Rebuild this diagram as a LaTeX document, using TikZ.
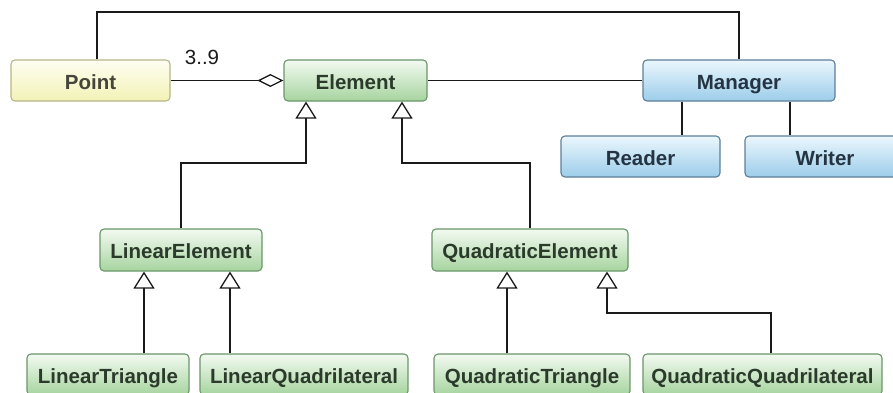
\documentclass[tikz,border=0pt]{standalone}
\usepackage{fontspec}
\setmainfont{Liberation Sans}
\usetikzlibrary{arrows.meta}

\definecolor{grTop}{HTML}{F3FAF1}
\definecolor{grBot}{HTML}{A6D49F}
\definecolor{grLine}{HTML}{6A966A}
\definecolor{grText}{HTML}{2B3A2B}
\definecolor{ylTop}{HTML}{FEFEF2}
\definecolor{ylBot}{HTML}{F2F2B6}
\definecolor{ylLine}{HTML}{B6B688}
\definecolor{ylText}{HTML}{45453A}
\definecolor{blTop}{HTML}{EBF7FD}
\definecolor{blBot}{HTML}{9CCDEA}
\definecolor{blLine}{HTML}{5C7F9B}
\definecolor{blText}{HTML}{253442}
\definecolor{wire}{HTML}{1A1A1A}

\tikzset{
  cls/.style={rectangle, rounded corners=4pt, line width=1.1pt,
    minimum height=41pt, inner sep=0pt, text height=17pt, text depth=0pt,
    font=\fontsize{20.5}{23}\selectfont\bfseries},
  greencls/.style={cls, draw=grLine, top color=grTop, bottom color=grBot, text=grText},
  yellowcls/.style={cls, draw=ylLine, top color=ylTop, bottom color=ylBot, text=ylText},
  bluecls/.style={cls, draw=blLine, top color=blTop, bottom color=blBot, text=blText},
  wireline/.style={draw=wire, line width=1.3pt},
  inherit/.style={wireline, -{Triangle[open, length=17pt, width=21pt, line width=1.3pt]}},
  aggregate/.style={wireline, -{Diamond[open, length=26pt, width=13pt, line width=1.3pt]}},
}

\begin{document}
\begin{tikzpicture}[x=1pt, y=-1pt]
  \useasboundingbox (0,0) rectangle (893,392);

  % classes
  \node[yellowcls, minimum width=159pt] (point)   at (90.5,80.5)  {Point};
  \node[greencls,  minimum width=143pt] (element) at (355.5,80.5) {Element};
  \node[bluecls,   minimum width=192pt] (manager) at (739,80.5)   {Manager};
  \node[bluecls,   minimum width=159pt] (reader)  at (640.5,156.5) {Reader};
  \node[bluecls,   minimum width=160pt] (writer)  at (825,156.5)  {Writer};

  \node[greencls, minimum width=162pt, minimum height=42pt] (linear)    at (181,250) {LinearElement};
  \node[greencls, minimum width=196pt, minimum height=42pt] (quadratic) at (530,250) {QuadraticElement};

  \node[greencls, minimum width=162pt] (lintri)   at (108,374.5)   {LinearTriangle};
  \node[greencls, minimum width=208pt] (linquad)  at (304,374.5)   {LinearQuadrilateral};
  \node[greencls, minimum width=196pt] (quadtri)  at (532,374.5)   {QuadraticTriangle};
  \node[greencls, minimum width=239pt] (quadquad) at (762.5,374.5) {QuadraticQuadrilateral};

  % routing points
  \coordinate (tl) at (97,12);
  \coordinate (tr) at (739,12);
  \coordinate (mr) at (682,0);
  \coordinate (mw) at (790,0);
  \coordinate (e1) at (306,163);
  \coordinate (e2) at (402,163);
  \coordinate (l1) at (144,0);
  \coordinate (l2) at (230,0);
  \coordinate (q1) at (507,0);
  \coordinate (q2) at (607,313);
  \coordinate (q2b) at (771,313);

  % associations
  \draw[wireline] (tl |- point.north) -- (tl) -- (tr) -- (manager.north);
  \draw[aggregate] (point.east) -- (element.west);
  \node[font=\fontsize{20.5}{23}\selectfont, text=wire] (mult) at (202,57) {3..9};
  \draw[wireline] (element.east) -- (manager.west);
  \draw[wireline] (mr |- manager.south) -- (mr |- reader.north);
  \draw[wireline] (mw |- manager.south) -- (mw |- writer.north);

  % generalisations
  \draw[inherit] (linear.north) |- (e1) -- (e1 |- element.south);
  \draw[inherit] (quadratic.north) |- (e2) -- (e2 |- element.south);
  \draw[inherit] (l1 |- lintri.north) -- (l1 |- linear.south);
  \draw[inherit] (l2 |- linquad.north) -- (l2 |- linear.south);
  \draw[inherit] (q1 |- quadtri.north) -- (q1 |- quadratic.south);
  \draw[inherit] (q2b |- quadquad.north) -- (q2b) -- (q2) -- (q2 |- quadratic.south);
\end{tikzpicture}
\end{document}
